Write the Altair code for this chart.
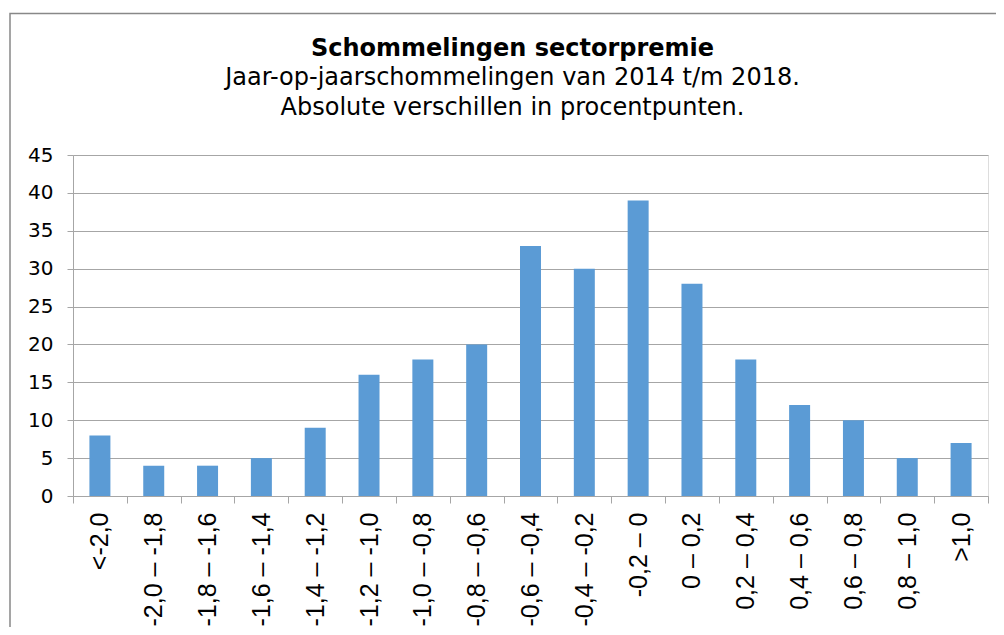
import altair as alt
import pandas as pd

categories = ["<-2,0", "-2,0 – -1,8", "-1,8 – -1,6", "-1,6 – -1,4", "-1,4 – -1,2",
              "-1,2 – -1,0", "-1,0 – -0,8", "-0,8 – -0,6", "-0,6 – -0,4", "-0,4 – -0,2",
              "-0,2 – 0", "0 – 0,2", "0,2 – 0,4", "0,4 – 0,6", "0,6 – 0,8", "0,8 – 1,0", ">1,0"]
values = [8, 4, 4, 5, 9, 16, 18, 20, 33, 30, 39, 28, 18, 12, 10, 5, 7]
y_ticks = [0, 5, 10, 15, 20, 25, 30, 35, 40, 45]

df = pd.DataFrame({"cat": categories, "val": values})

W, H = 915, 341
GRAY = "#a6a6a6"

bars = alt.Chart(df).mark_bar(color="#5B9BD5", width=alt.RelativeBandSize(0.39)).encode(
    x=alt.X("cat:N", sort=categories, title=None,
            scale=alt.Scale(paddingInner=0, paddingOuter=0),
            axis=alt.Axis(labelAngle=-90, labelFont="Liberation Sans", labelFontSize=25,
                          labelColor="black", labelPadding=9, tickSize=7, tickColor=GRAY,
                          domainColor=GRAY, tickBand="extent", grid=False,
                          labelAlign="right", labelBaseline="middle")),
    y=alt.Y("val:Q", title=None, scale=alt.Scale(domain=[0, 45], nice=False),
            axis=alt.Axis(values=y_ticks, labelFont="DejaVu Sans", labelFontSize=20,
                          labelColor="black", labelPadding=14, tickSize=6, tickColor=GRAY,
                          domainColor=GRAY, gridColor=GRAY, grid=True))
)

frame = alt.Chart(alt.Data(values=[{"a": 1}])).mark_rect(
    fill=None, stroke="#888888", strokeWidth=1.5).encode(
    x=alt.value(-63), x2=alt.value(W + 60), y=alt.value(-141.5), y2=alt.value(H + 300)
)

chart = alt.layer(frame, bars).properties(
    width=W, height=H,
    title=alt.TitleParams(
        text="Schommelingen sectorpremie",
        subtitle=["Jaar-op-jaarschommelingen van 2014 t/m 2018.", "Absolute verschillen in procentpunten."],
        font="DejaVu Sans", fontSize=24, fontWeight="bold", color="black",
        subtitleFont="DejaVu Sans", subtitleFontSize=24, subtitleColor="black",
        subtitleLineHeight=30, subtitlePadding=5, anchor="middle", dx=-18, offset=-107
    ),
    autosize=alt.AutoSizeParams(type="none"),
    padding={"left": 65, "top": 147, "right": 8, "bottom": 131}
).configure_view(stroke=None).configure(background="white")

chart.save("out.html", embed_options={"renderer": "svg", "actions": False})
